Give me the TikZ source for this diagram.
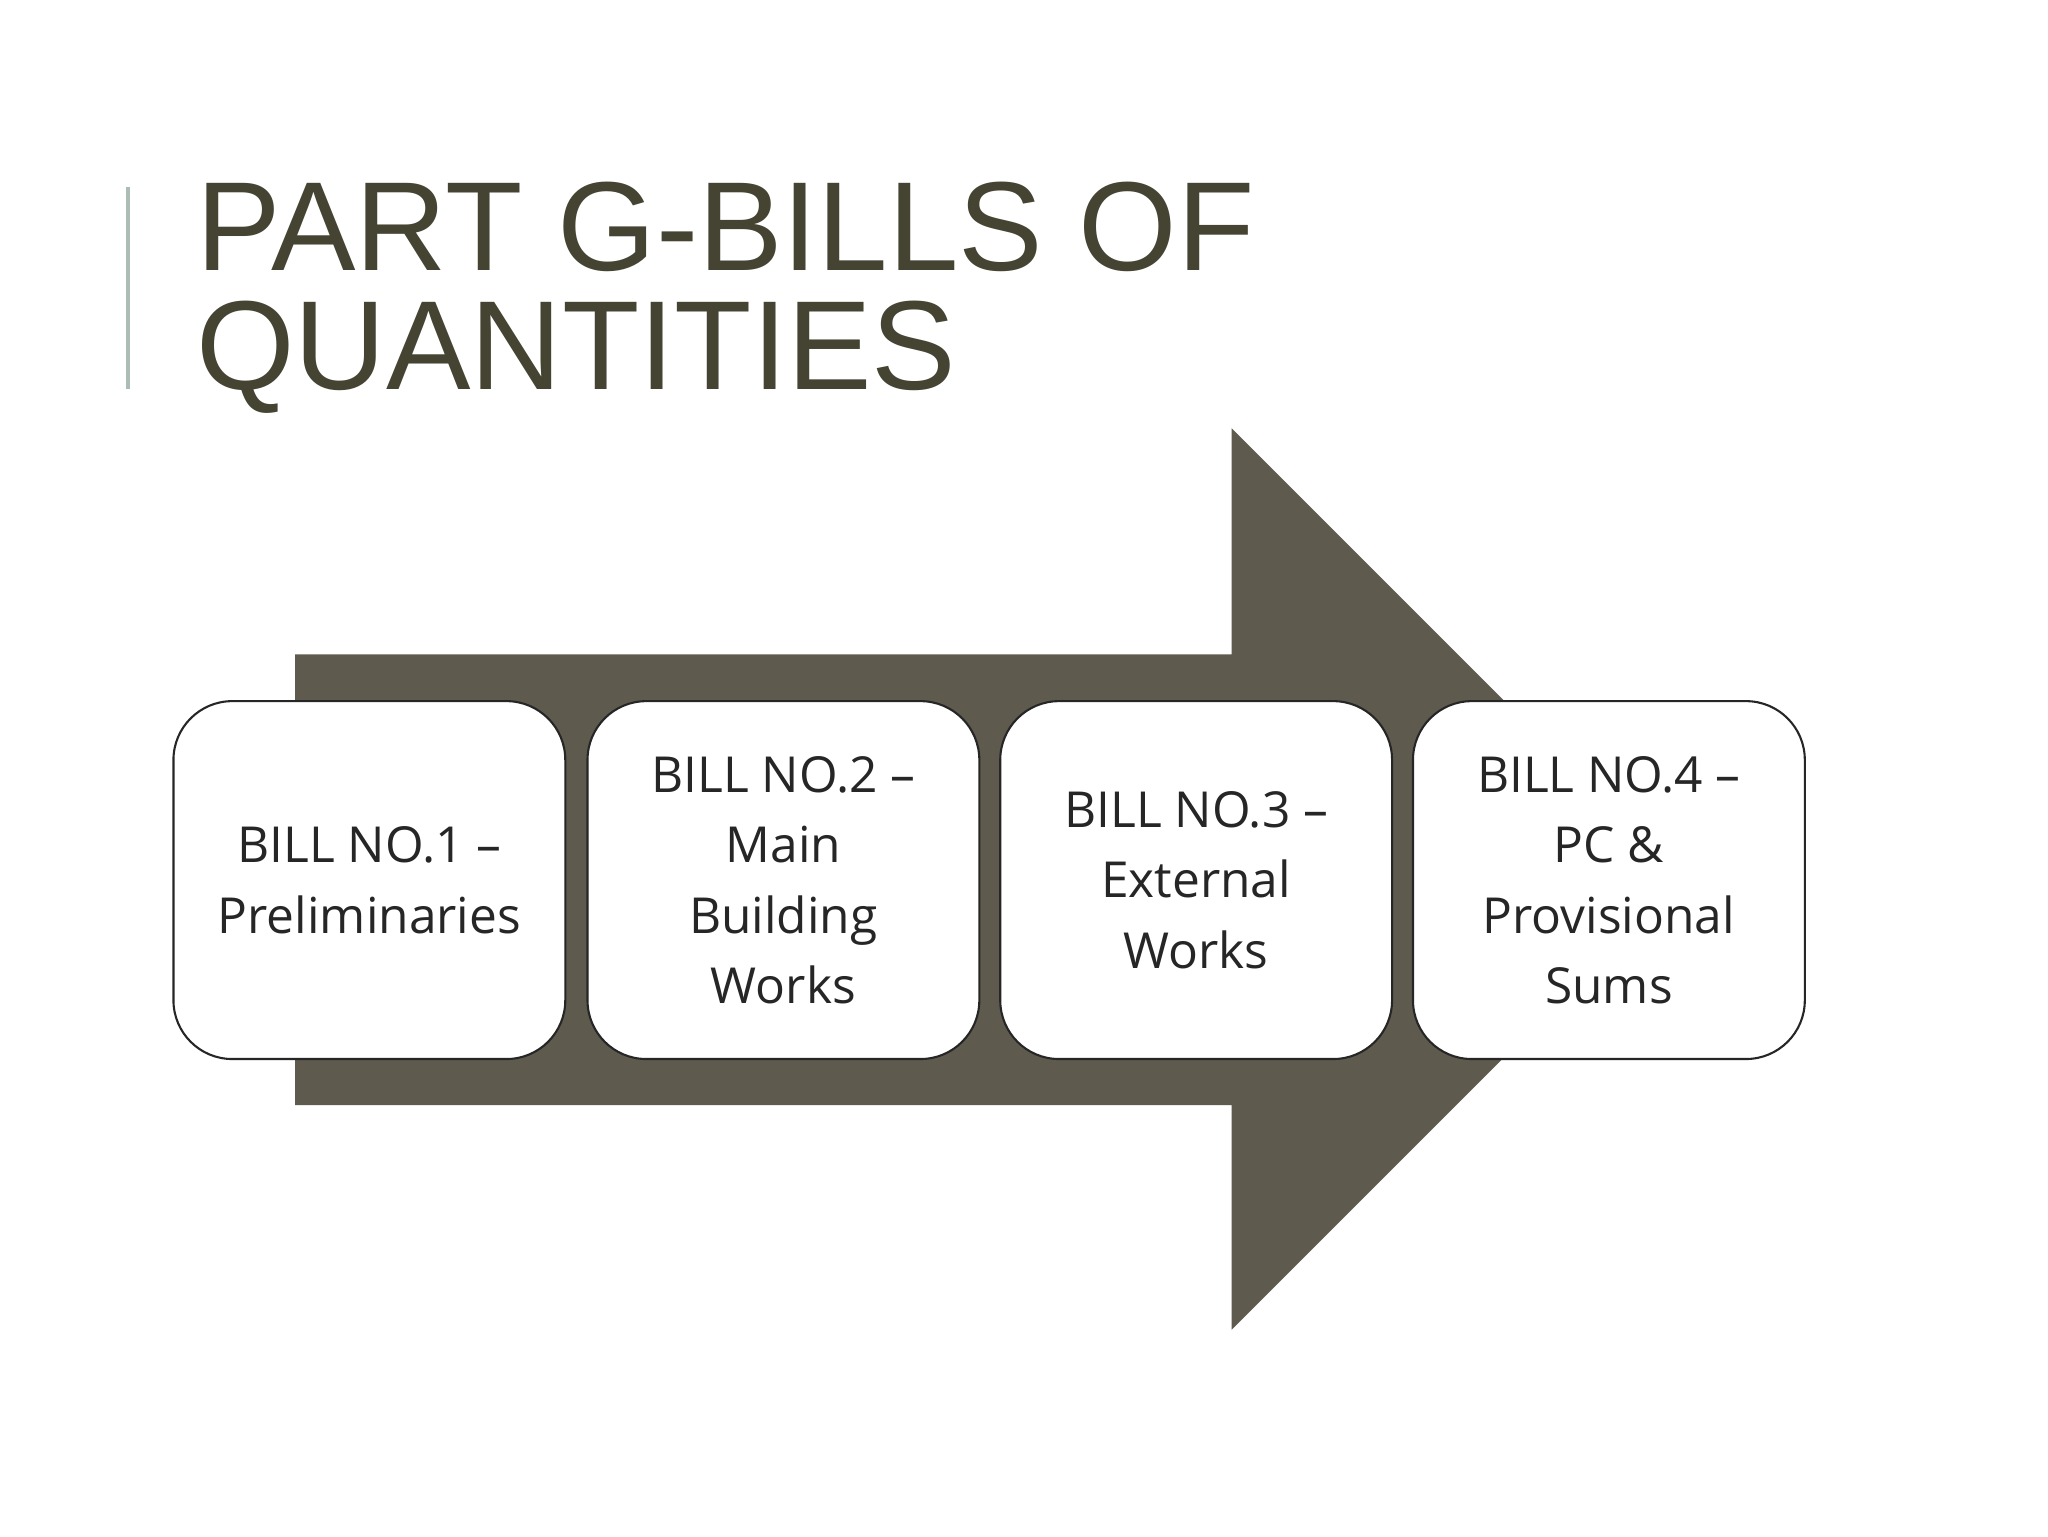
\documentclass[tikz,border=0pt]{standalone}
\usepackage{fontspec}
\setmainfont{Liberation Sans}
\newfontfamily\boxfont{Open Sans}
\begin{document}
\begin{tikzpicture}[x=1pt,y=-1pt,
  bill/.style={draw=black!85,line width=1.6pt,fill=white,rounded corners=45pt,
    minimum width=300pt,minimum height=274pt,anchor=north west,inner sep=0pt,
    align=center,font=\boxfont\fontsize{38}{54}\selectfont,text=black!85},
  ]
\useasboundingbox (0,0) rectangle (1568,1176);
\fill[white] (0,0) rectangle (1568,1176);
\draw[color={rgb,255:red,170;green,190;blue,182},line width=3pt] (98,143) -- (98,298);
\node[anchor=base west,inner sep=0pt,text={rgb,255:red,69;green,67;blue,50},font=\fontsize{97}{91}\selectfont] (t1) at (150,207) {PART G-BILLS OF};
\node[anchor=base west,inner sep=0pt,text={rgb,255:red,69;green,67;blue,50},font=\fontsize{97}{91}\selectfont] (t2) at (150,298) {QUANTITIES};
\fill[color={rgb,255:red,95;green,90;blue,78}] (226,501) -- (943,501) -- (943,328) -- (1288,673) -- (943,1018) -- (943,846) -- (226,846) -- cycle;
\node[bill] (b1) at (132,536) {BILL NO.1 –\\Preliminaries};
\node[bill] (b2) at (449,536) {BILL NO.2 –\\Main\\Building\\Works};
\node[bill] (b3) at (765,536) {BILL NO.3 –\\External\\Works};
\node[bill] (b4) at (1081,536) {BILL NO.4 –\\PC \&\\Provisional\\Sums};
\end{tikzpicture}
\end{document}
